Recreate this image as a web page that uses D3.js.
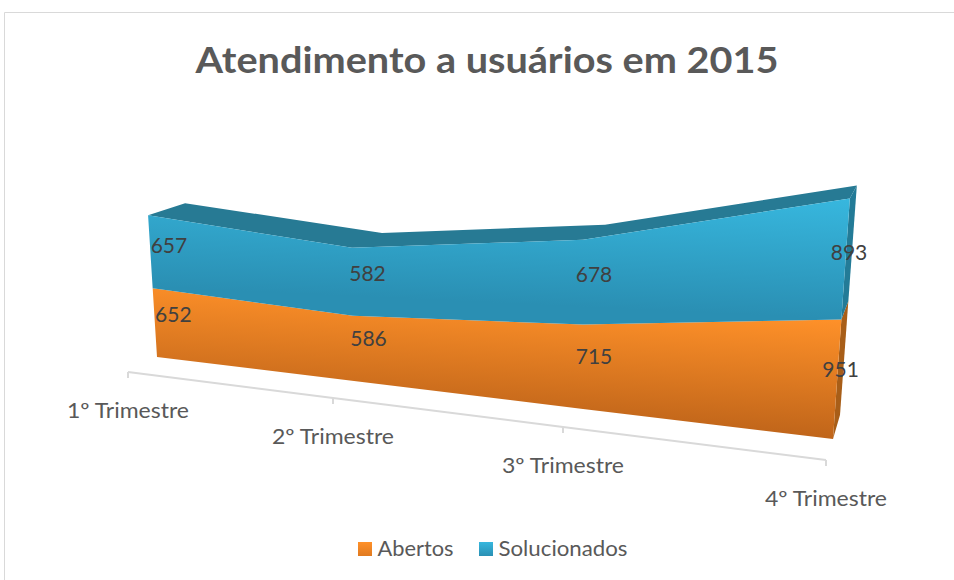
<!DOCTYPE html>
<html><head><meta charset="utf-8">
<script src="https://cdn.jsdelivr.net/npm/d3@7"></script>
<style>html,body{margin:0;padding:0;background:#fff}svg{display:block}text{font-family:Lato,"Open Sans",sans-serif}</style>
</head><body><svg id="c" width="954" height="580"></svg>
<script>
const titleText = "Atendimento a usuários em 2015";
const categories = ["1º Trimestre","2º Trimestre","3º Trimestre","4º Trimestre"];
const abertos = [652,586,715,951];
const solucionados = [657,582,678,893];
const seriesNames = ["Abertos","Solucionados"];

const svg = d3.select("#c");
const rows = categories.map((c,i)=>({i,Abertos:abertos[i],Solucionados:solucionados[i]}));
const stacked = d3.stack().keys(seriesNames)(rows);

// projection of the 3D plot, expressed as scales over the category index
const idx = [0,1,2,3];
const baseX = d3.scaleLinear().domain(idx).range([157,354,583,833]);
const baseY = d3.scaleLinear().domain(idx).range([357,381,409,439]);
const unit  = d3.scaleLinear().domain([0,3]).range([.1026,.1208]);
const tilt  = d3.scaleLinear().domain(idx).range([-.063,-.015,0,.07]);
const depthX = d3.scaleLinear().domain(idx).range([37,30,22,7]);
const depthY = d3.scaleLinear().domain(idx).range([18.6,21,22.8,24]);
const axisX = d3.scaleLinear().domain(idx).range([128,333,563,826]);
const axisY = d3.scaleLinear().domain(idx).range([372,398,427,460]);
const persp = 4e-5, depthFall = .046;
function project(i,v,d){
  const h = unit(i)*v/(1-persp*v);
  return [baseX(i)+tilt(i)*h+d*depthX(i), baseY(i)-h-d*(depthY(i)-depthFall*h)];
}
const path = d3.line();

const defs = svg.append("defs");
function grad(id,x1,y1,x2,y2,stops,units){
  const g = defs.append("linearGradient").attr("id",id)
    .attr("gradientUnits",units||"userSpaceOnUse")
    .attr("x1",x1).attr("y1",y1).attr("x2",x2).attr("y2",y2);
  stops.forEach((s,k)=>g.append("stop").attr("offset",k/(stops.length-1)).attr("stop-color",s));
}
grad("gO",842,319,834.5,438.5,["#ff9129","#c0651a"]);
grad("gB",850,199,844.4,319,["#37b7de","#2a8fb3"]);
grad("lO",0,0,0,1,["#ff9129","#e07a20"],"objectBoundingBox");
grad("lB",0,0,0,1,["#37b7de","#2a90b4"],"objectBoundingBox");

// chart frame
svg.append("path").attr("d",d3.line()([[4.5,580],[4.5,12.5],[954,12.5]]))
  .attr("fill","none").attr("stroke","#d9d9d9").attr("stroke-width",1);

function fit(sel,len){return sel.attr("textLength",len).attr("lengthAdjust","spacingAndGlyphs");}

fit(svg.append("text").attr("x",487).attr("y",73).attr("text-anchor","middle")
  .attr("font-size",37).attr("font-weight",700).attr("fill","#595959").text(titleText),583);

// category axis in front of the floor
svg.append("path").attr("d",path(idx.map(i=>[axisX(i),axisY(i)])))
  .attr("fill","none").attr("stroke","#d9d9d9").attr("stroke-width",2);
idx.forEach(i=>{
  const x = axisX(i), y = axisY(i);
  svg.append("line").attr("x1",x).attr("x2",x).attr("y1",y).attr("y2",y+6)
    .attr("stroke","#d9d9d9").attr("stroke-width",2);
  fit(svg.append("text").attr("x",x).attr("y",y+46).attr("text-anchor","middle")
    .attr("font-size",21).attr("fill","#595959").text(categories[i]),122);
});

// orange then blue faces
const [sA,sB] = stacked;
const poly = (top,bot)=>path(top.concat(bot.slice().reverse()))+"Z";
const front = (s,k)=>idx.map(i=>project(i,s[i][k],0));
const back  = (s,k)=>idx.map(i=>project(i,s[i][k],1));
const sideA = [project(3,sA[3][0],0),project(3,sA[3][1],0),project(3,sA[3][1],1),project(3,sA[3][0],1)];
const sideB = [project(3,sB[3][0],0),project(3,sB[3][1],0),project(3,sB[3][1],1),project(3,sB[3][0],1)];
svg.append("path").attr("d",path(sideA)+"Z").attr("fill","#a85e18");
svg.append("path").attr("d",path(sideB)+"Z").attr("fill","#237b97");
svg.append("path").attr("d",poly(back(sB,1),front(sB,1))).attr("fill","#277a94");
svg.append("path").attr("d",poly(front(sA,1),front(sA,0))).attr("fill","url(#gO)");
svg.append("path").attr("d",poly(front(sB,1),front(sB,0))).attr("fill","url(#gB)");

// data labels sit mid-depth, mid-band
[sA,sB].forEach(s=>idx.forEach(i=>{
  const [x,y] = project(i,(s[i][0]+s[i][1])/2,.5);
  svg.append("text").attr("x",x).attr("y",y).attr("dy",".35em").attr("text-anchor","middle")
    .attr("font-size",21).attr("fill","#404040").text(s[i][1]-s[i][0]);
}));

// legend
const legendSwatch = d3.scaleOrdinal().domain(seriesNames).range([358,479]);
const legendFill = d3.scaleOrdinal().domain(seriesNames).range(["url(#lO)","url(#lB)"]);
const legendWidth = d3.scaleOrdinal().domain(seriesNames).range([76,129]);
seriesNames.forEach(n=>{
  svg.append("rect").attr("x",legendSwatch(n)).attr("y",542).attr("width",14).attr("height",14).attr("fill",legendFill(n));
  fit(svg.append("text").attr("x",legendSwatch(n)+19.5).attr("y",556).attr("font-size",21).attr("fill","#595959").text(n),legendWidth(n));
});
</script></body></html>
